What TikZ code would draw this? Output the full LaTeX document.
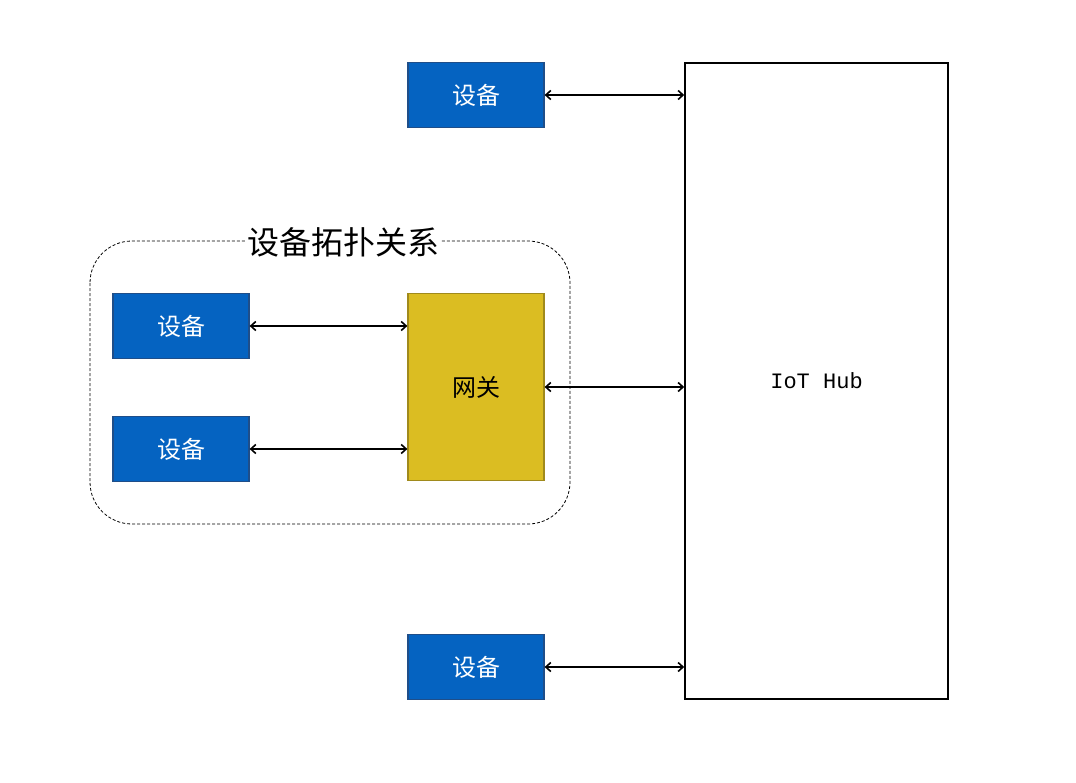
\documentclass[tikz,border=0pt]{standalone}
\usepackage{fontspec}
\setmainfont{Liberation Serif}
\newfontfamily\cjk{Noto Sans CJK SC}
\newfontfamily\monof{Liberation Mono}
\usetikzlibrary{arrows.meta,calc}
\definecolor{devblue}{HTML}{0563C1}
\definecolor{devborder}{HTML}{1F4E89}
\definecolor{gwfill}{HTML}{DBBD22}
\definecolor{gwborder}{HTML}{A08A1C}
\begin{document}
\begin{tikzpicture}[x=1pt,y=-1pt,
  devbox/.style={draw=devborder,fill=devblue,line width=1.2pt,minimum width=136pt,minimum height=65pt,inner sep=0pt,font=\cjk\fontsize{24}{24}\selectfont,text=white},
  gwbox/.style={draw=gwborder,fill=gwfill,line width=1.2pt,minimum width=136pt,minimum height=187pt,inner sep=0pt,font=\cjk\fontsize{24}{24}\selectfont,text=black},
  hubbox/.style={draw=black,line width=1.5pt,minimum width=263pt,minimum height=636pt,inner sep=0pt,font=\monof\fontsize{22}{22}\selectfont},
  link/.style={line width=1.6pt,{Straight Barb[length=5pt,width=9pt]}-{Straight Barb[length=5pt,width=9pt]}}
]
\useasboundingbox (0,0) rectangle (1076,782);
\draw[dashed,dash pattern=on 3pt off 2pt,line width=0.8pt,rounded corners=42pt] (90,241) rectangle (570,524);
\node[font=\cjk\fontsize{32}{32}\selectfont,fill=white,inner sep=1pt] (title) at (343,242) {设备拓扑关系};
\node[devbox] (top) at (476,95) {设备};
\node[devbox] (d1) at (181,326) {设备};
\node[devbox] (d2) at (181,449) {设备};
\node[gwbox] (gw) at (476,387) {网关};
\node[devbox] (bot) at (476,667) {设备};
\node[hubbox] (hub) at (816.5,381) {IoT Hub};
\draw[link] (top.east) -- (top.east -| hub.west);
\draw[link] (d1.east) -- (d1.east -| gw.west);
\draw[link] (d2.east) -- (d2.east -| gw.west);
\draw[link] (gw.east) -- (gw.east -| hub.west);
\draw[link] (bot.east) -- (bot.east -| hub.west);
\end{tikzpicture}
\end{document}
